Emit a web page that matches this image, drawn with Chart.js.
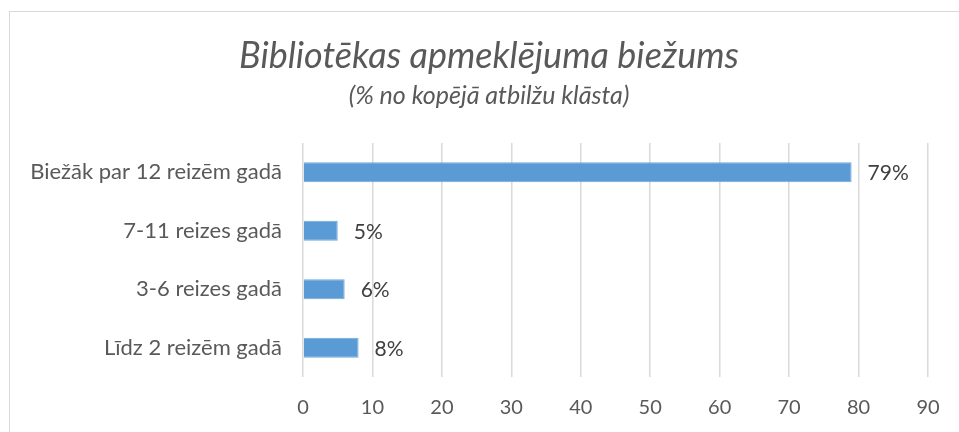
<!DOCTYPE html>
<html>
<head>
<meta charset="utf-8">
<script src="https://cdn.jsdelivr.net/npm/chart.js@4.4.1/dist/chart.umd.min.js"></script>
<style>
    body { margin: 0; background: #fff; }
    #wrap { position: relative; width: 959px; height: 432px; overflow: hidden; }
    #frame { position: absolute; left: 9px; top: 11px; width: 1000px; height: 500px; border: 1px solid #d9d9d9; }
    canvas { position: absolute; left: 0; top: 0; }
</style>
</head>
<body>
<div id="wrap">
    <div id="frame"></div>
    <canvas id="chart" width="959" height="432"></canvas>
</div>
<script>
var categories = ['Biežāk par 12 reizēm gadā', '7-11 reizes gadā', '3-6 reizes gadā', 'Līdz 2 reizēm gadā'];
var values = [79, 5, 6, 8];
var xTicks = [0, 10, 20, 30, 40, 50, 60, 70, 80, 90];

var fontFamily = 'Lato, "Open Sans", sans-serif';

// percent labels right of each bar
var barLabels = {
    id: 'barLabels',
    afterLayout: function (chart) {
        // let the long category labels run into the left padding
        chart.scales.y.left = 0;
    },
    afterDatasetsDraw: function (chart) {
        var ctx = chart.ctx;
        var meta = chart.getDatasetMeta(0);
        ctx.save();
        ctx.font = '21px ' + fontFamily;
        ctx.fillStyle = '#404040';
        ctx.textAlign = 'left';
        ctx.textBaseline = 'middle';
        meta.data.forEach(function (bar, i) {
            ctx.fillText(values[i] + '%', bar.x + 16, bar.y + 1);
        });
        ctx.restore();
    }
};

new Chart(document.getElementById('chart'), {
    type: 'bar',
    data: {
        labels: categories,
        datasets: [{
            data: values,
            backgroundColor: '#5b9bd5',
            borderColor: '#6ea7dc',
            borderWidth: 1,
            barPercentage: 0.34,
            categoryPercentage: 1
        }]
    },
    options: {
        indexAxis: 'y',
        responsive: false,
        animation: false,
        layout: { padding: { left: 50, right: 31, top: 0, bottom: -7 } },
        plugins: {
            legend: { display: false },
            tooltip: { enabled: false },
            title: {
                display: true,
                text: 'Bibliotēkas apmeklējuma biežums',
                color: '#595959',
                font: { family: fontFamily, size: 36, style: 'italic', weight: 'normal', lineHeight: 1.2 },
                padding: { top: 34.4, bottom: 0 }
            },
            subtitle: {
                display: true,
                text: '(% no kopējā atbilžu klāsta)',
                color: '#595959',
                font: { family: fontFamily, size: 25, style: 'italic', weight: 'normal', lineHeight: 1.2 },
                padding: { top: 3.4, bottom: 32 }
            }
        },
        scales: {
            x: {
                min: 0,
                max: 90,
                afterBuildTicks: function (scale) {
                    scale.ticks = xTicks.map(function (v) { return { value: v }; });
                },
                grid: { color: '#d9d9d9', lineWidth: 1.5, drawTicks: false },
                border: { display: false },
                ticks: {
                    color: '#595959',
                    padding: 19,
                    font: { family: fontFamily, size: 20 }
                }
            },
            y: {
                grid: { display: false },
                border: { display: false },
                afterFit: function (scale) { scale.width = 253; },
                ticks: {
                    color: '#595959',
                    padding: 13,
                    font: { family: fontFamily, size: 22 }
                }
            }
        }
    },
    plugins: [barLabels]
});
</script>
</body>
</html>
